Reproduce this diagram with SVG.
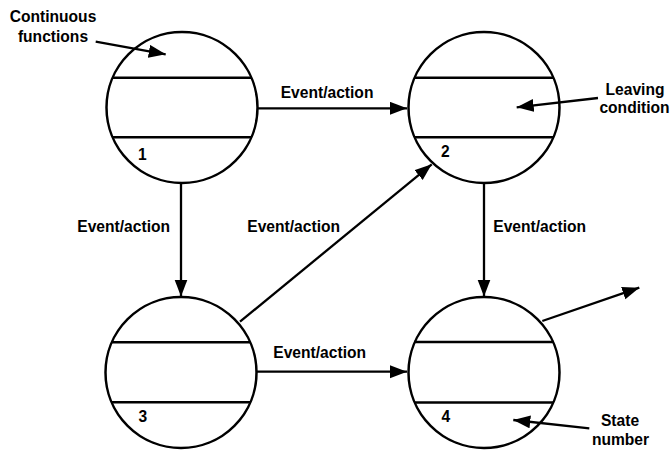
<svg xmlns="http://www.w3.org/2000/svg" width="670" height="451" viewBox="0 0 670 451">
<style>
.st{fill:none;stroke:#000;stroke-width:2.5}
.ln{stroke:#000;stroke-width:2.5}
.cn{stroke:#000;stroke-width:2.3;fill:none}
text{font-family:"Liberation Sans",Arial,sans-serif;font-weight:bold;font-size:15.6px;fill:#000}
</style>
<defs>
<marker id="ah" markerUnits="userSpaceOnUse" markerWidth="20" markerHeight="14" refX="17" refY="6.5" orient="auto">
<path d="M0,0 L17,6.5 L0,13 Z" fill="#000"/>
</marker>
</defs>
<rect width="670" height="451" fill="#fff"/>
<g id="state1">
<circle class="st" cx="182" cy="107.5" r="75.5"/>
<line class="ln" x1="112" y1="77.7" x2="252" y2="77.7"/>
<line class="ln" x1="112" y1="137.3" x2="252" y2="137.3"/>
<text x="138" y="160">1</text>
</g>
<g id="state2">
<circle class="st" cx="484" cy="107.5" r="75.5"/>
<line class="ln" x1="414" y1="77.7" x2="554" y2="77.7"/>
<line class="ln" x1="414" y1="137.3" x2="554" y2="137.3"/>
<text x="441" y="157">2</text>
</g>
<g id="state3">
<circle class="st" cx="181" cy="372.5" r="75.5"/>
<line class="ln" x1="111" y1="342.3" x2="251" y2="342.3"/>
<line class="ln" x1="111" y1="402.3" x2="251" y2="402.3"/>
<text x="138.5" y="422">3</text>
</g>
<g id="state4">
<circle class="st" cx="484" cy="372.5" r="75.5"/>
<line class="ln" x1="414" y1="342" x2="554" y2="342"/>
<line class="ln" x1="414" y1="402.5" x2="554" y2="402.5"/>
<text x="441.5" y="422">4</text>
</g>
<g id="connectors">
<line class="cn" x1="258" y1="108.3" x2="407" y2="108.3" marker-end="url(#ah)"/>
<line class="cn" x1="181" y1="183" x2="181" y2="296.5" marker-end="url(#ah)"/>
<line class="cn" x1="240" y1="321.7" x2="431.7" y2="164.3" marker-end="url(#ah)"/>
<line class="cn" x1="257" y1="371.7" x2="407" y2="371.7" marker-end="url(#ah)"/>
<line class="cn" x1="484" y1="183" x2="484" y2="296.5" marker-end="url(#ah)"/>
<line class="cn" x1="542.3" y1="321" x2="639.3" y2="287.7" marker-end="url(#ah)"/>
<line class="cn" x1="95.7" y1="41.7" x2="165.7" y2="54.3" marker-end="url(#ah)"/>
<line class="cn" x1="598" y1="98" x2="516.7" y2="107.3" marker-end="url(#ah)"/>
<line class="cn" x1="589.3" y1="428.3" x2="513.3" y2="420" marker-end="url(#ah)"/>
</g>
<g id="labels">
<text x="280.7" y="97.7">Event/action</text>
<text x="77.3" y="232.3">Event/action</text>
<text x="247.3" y="232.3">Event/action</text>
<text x="273.3" y="357.7">Event/action</text>
<text x="493.3" y="231.7">Event/action</text>
<text x="53" y="22.3" text-anchor="middle">Continuous</text>
<text x="53" y="42.3" text-anchor="middle">functions</text>
<text x="635" y="95" text-anchor="middle">Leaving</text>
<text x="634.5" y="112.7" text-anchor="middle">condition</text>
<text x="620" y="426" text-anchor="middle">State</text>
<text x="620.5" y="445" text-anchor="middle">number</text>
</g>
</svg>
